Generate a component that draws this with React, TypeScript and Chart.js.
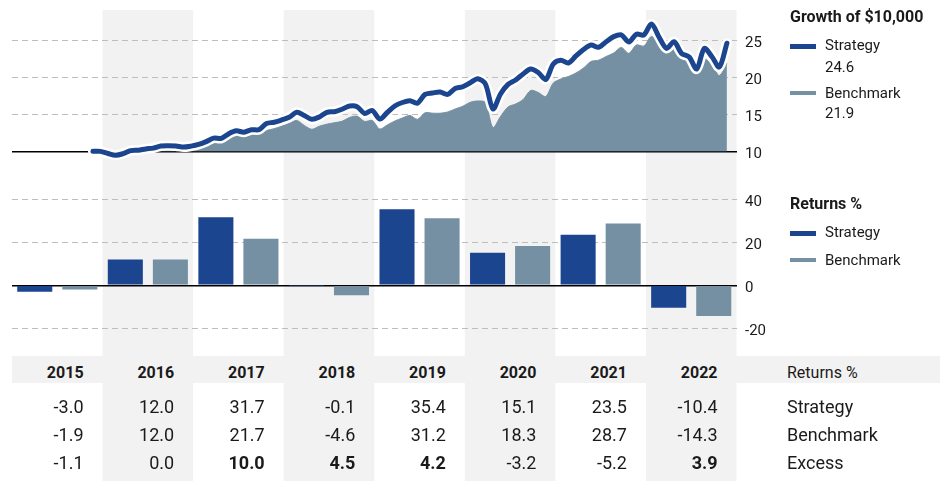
import React, { useEffect, useRef } from 'react';
import { Chart, registerables } from 'chart.js';

Chart.register(...registerables);

// ---------- data ----------
const years = ['2015', '2016', '2017', '2018', '2019', '2020', '2021', '2022'];
const strategyReturns = [-3.0, 12.0, 31.7, -0.1, 35.4, 15.1, 23.5, -10.4];
const benchmarkReturns = [-1.9, 12.0, 21.7, -4.6, 31.2, 18.3, 28.7, -14.3];
const excessReturns = [-1.1, 0.0, 10.0, 4.5, 4.2, -3.2, -5.2, 3.9];

const growthTicks = [10, 15, 20, 25];
const returnTicks = [40, 20, 0, -20];

// monthly growth of $10,000 (in thousands), first observation in late 2015
const growthStartYear = 2015.894;
const strategyGrowth = [
  10.0, 9.99, 9.7, 9.46, 9.68, 10.08, 10.14, 10.32, 10.43, 10.72,
  10.76, 10.72, 10.57, 10.7, 10.93, 11.31, 11.78, 11.74, 12.38, 12.76,
  12.58, 12.91, 12.92, 13.76, 13.92, 14.23, 14.59, 15.27, 14.84, 14.32,
  14.64, 15.27, 15.35, 15.68, 16.12, 16.03, 15.11, 15.51, 14.36, 15.24,
  16.12, 16.59, 16.82, 16.5, 17.68, 17.88, 18.01, 17.68, 18.49, 18.72,
  19.27, 19.81, 19.09, 15.72, 17.74, 19.03, 19.64, 20.45, 21.12, 20.65,
  19.7, 21.8, 22.3, 21.93, 22.88, 23.76, 24.36, 24.05, 24.81, 25.49,
  25.72, 24.77, 25.82, 25.72, 27.2, 25.45, 23.89, 24.81, 23.22, 22.74,
  21.12, 23.89, 22.81, 21.39, 24.6,
];
const benchmarkGrowth = [
  10.0, 9.95, 9.75, 9.55, 9.75, 10.05, 10.1, 10.25, 10.35, 10.6,
  10.65, 10.6, 10.5, 10.55, 10.65, 10.92, 11.65, 11.53, 11.93, 12.14,
  12.16, 12.34, 12.41, 12.81, 13.05, 13.39, 13.76, 14.16, 13.49, 12.97,
  13.39, 13.66, 13.86, 14.05, 14.57, 14.73, 14.03, 14.16, 13.01, 13.55,
  14.09, 14.5, 14.84, 14.32, 15.2, 15.15, 15.14, 15.31, 15.72, 16.08,
  16.62, 16.8, 16.59, 13.22, 14.7, 15.99, 16.39, 17.0, 18.22, 17.95,
  17.41, 19.23, 19.77, 20.11, 20.58, 21.26, 22.14, 22.31, 22.81, 23.28,
  24.03, 23.24, 24.36, 24.23, 25.51, 24.57, 23.28, 24.12, 22.41, 22.16,
  21.49, 22.5, 21.66, 20.24, 21.9,
];

// ---------- style ----------
const BLUE = '#1b458e';
const GREY_BLUE = '#7590a2';
const SHADE = '#f2f2f2';
const GRID = '#bdbdbd';
const INK = '#1a1a1a';
const FONT = 'Roboto, "Noto Sans", sans-serif';
const W = 940;
const H = 481;
const PLOT_LEFT = 12;
const PLOT_RIGHT = 736.5;
const TOP_H = 170;
const COL_W = (PLOT_RIGHT - PLOT_LEFT) / years.length;

const toPoints = (vals: number[]) =>
  vals.map((v, i) => ({ x: growthStartYear + i / 12, y: v }));

function makeShade(colBounds: (chart: any, i: number) => [number, number], top: number) {
  return {
    id: 'columnShade',
    beforeDraw(chart: any) {
      const { ctx, height } = chart;
      ctx.save();
      ctx.fillStyle = SHADE;
      years.forEach((_, i) => {
        if (i % 2 === 1) {
          const [l, r] = colBounds(chart, i);
          ctx.fillRect(l, top, r - l, height - top);
        }
      });
      ctx.restore();
    },
  };
}

const yAxisCommon = (ticksList: number[], solidAt: number) => ({
  position: 'right' as const,
  afterBuildTicks: (s: any) => {
    s.ticks = ticksList.map((v) => ({ value: v }));
  },
  afterFit: (s: any) => {
    s.width = W - PLOT_RIGHT;
    s.paddingTop = 0;
    s.paddingBottom = 0;
  },
  grid: {
    drawTicks: false,
    color: (c: any) => (c.tick && c.tick.value === solidAt ? '#000' : GRID),
    lineWidth: (c: any) => (c.tick && c.tick.value === solidAt ? 1.5 : 1),
  },
  border: {
    display: false,
    dash: (c: any) => (c.tick && c.tick.value === solidAt ? [] : [6, 4]),
  },
  ticks: {
    padding: 8.5,
    labelOffset: 2.5,
    color: INK,
    font: { family: FONT, size: 15 },
    callback: (v: any) => String(v),
  },
});

function GrowthChart() {
  const ref = useRef<HTMLCanvasElement | null>(null);
  useEffect(() => {
    if (!ref.current) return;
    const sPts = toPoints(strategyGrowth);
    const bPts = toPoints(benchmarkGrowth);
    const chart = new Chart(ref.current, {
      type: 'line',
      data: {
        datasets: [
          {
            label: 'Strategy',
            data: sPts,
            borderColor: BLUE,
            borderWidth: 5,
            pointRadius: 0,
            tension: 0.3,
            fill: false,
            order: 0,
            borderCapStyle: 'round',
            borderJoinStyle: 'round',
          },
          {
            label: 'halo',
            data: sPts,
            borderColor: '#ffffff',
            borderWidth: 10,
            pointRadius: 0,
            tension: 0.3,
            fill: false,
            order: 1,
            borderCapStyle: 'round',
            borderJoinStyle: 'round',
          },
          {
            label: 'Benchmark',
            data: bPts,
            borderColor: GREY_BLUE,
            backgroundColor: GREY_BLUE,
            borderWidth: 1,
            pointRadius: 0,
            tension: 0.3,
            fill: { value: 10 },
            order: 2,
          },
        ],
      } as any,
      options: {
        animation: false,
        responsive: false,
        devicePixelRatio: 1,
        events: [],
        layout: { padding: { left: PLOT_LEFT, top: 10, right: 0, bottom: 0 } },
        plugins: { legend: { display: false }, tooltip: { enabled: false } },
        scales: {
          x: { type: 'linear', min: 2015, max: 2023, display: false },
          y: { type: 'linear', min: 7.47, max: 29.09, ...yAxisCommon(growthTicks, 10) },
        },
      } as any,
      plugins: [
        makeShade((c, i) => {
          const x = c.scales.x;
          return [x.getPixelForValue(2015 + i), x.getPixelForValue(2016 + i)];
        }, 10),
      ],
    });
    return () => chart.destroy();
  }, []);
  return <canvas ref={ref} width={W} height={TOP_H} style={{ display: 'block', width: W, height: TOP_H }} />;
}

function ReturnsChart() {
  const ref = useRef<HTMLCanvasElement | null>(null);
  useEffect(() => {
    if (!ref.current) return;
    const chart = new Chart(ref.current, {
      type: 'bar',
      data: {
        labels: years,
        datasets: [
          {
            label: 'Strategy',
            data: strategyReturns,
            backgroundColor: BLUE,
            barPercentage: 0.778,
            categoryPercentage: 0.995,
          },
          {
            label: 'Benchmark',
            data: benchmarkReturns,
            backgroundColor: GREY_BLUE,
            barPercentage: 0.778,
            categoryPercentage: 0.995,
          },
        ],
      },
      options: {
        animation: false,
        responsive: false,
        devicePixelRatio: 1,
        events: [],
        layout: { padding: { left: PLOT_LEFT, top: 5, right: 0, bottom: H - TOP_H - 175 } },
        plugins: { legend: { display: false }, tooltip: { enabled: false } },
        scales: {
          x: { type: 'category', display: false, offset: true },
          y: { type: 'linear', min: -27.77, max: 51.3, ...yAxisCommon(returnTicks, 0) },
        },
      } as any,
      plugins: [
        makeShade((c, i) => {
          const x = c.scales.x;
          const bw = (x.right - x.left) / years.length;
          const cx = x.getPixelForValue(i);
          return [cx - bw / 2, cx + bw / 2];
        }, 0),
      ],
    });
    return () => chart.destroy();
  }, []);
  return (
    <canvas ref={ref} width={W} height={H - TOP_H} style={{ display: 'block', width: W, height: H - TOP_H }} />
  );
}

function Txt(props: {
  x: number;
  cy: number;
  size: number;
  bold?: boolean;
  children: React.ReactNode;
  w?: number;
  align?: 'left' | 'right';
  pr?: number;
}) {
  const { x, cy, size, bold, children, w, align, pr } = props;
  return (
    <div
      style={{
        position: 'absolute',
        left: x,
        top: cy - size / 2,
        width: w,
        height: size,
        lineHeight: `${size}px`,
        fontSize: size,
        fontWeight: bold ? 700 : 400,
        textAlign: align || 'left',
        paddingRight: pr || 0,
        boxSizing: 'border-box',
        whiteSpace: 'nowrap',
      }}
    >
      {children}
    </div>
  );
}

function Swatch({ y, h, color }: { y: number; h: number; color: string }) {
  return <div style={{ position: 'absolute', left: 790, top: y, width: 26, height: h, background: color }} />;
}

export default function App() {
  const rowCenters = { header: 372.5, strategy: 406.7, benchmark: 435, excess: 463.3 };
  const cellProps = (i: number) => ({ x: PLOT_LEFT + i * COL_W, w: COL_W, align: 'right' as const, pr: 19 });
  return (
    <div
      style={{
        position: 'absolute',
        left: 0,
        top: 0,
        width: W,
        height: H,
        background: '#fff',
        fontFamily: FONT,
        color: INK,
        overflow: 'hidden',
      }}
    >
      <div style={{ position: 'absolute', left: 0, top: 0 }}>
        <GrowthChart />
      </div>
      <div style={{ position: 'absolute', left: 0, top: TOP_H }}>
        <ReturnsChart />
      </div>

      {/* growth legend */}
      <Txt x={790} cy={16.7} size={16} bold>
        Growth of $10,000
      </Txt>
      <Swatch y={44.3} h={5.2} color={BLUE} />
      <Txt x={825} cy={45} size={15}>
        Strategy
      </Txt>
      <Txt x={825} cy={67} size={15}>
        {strategyGrowth[strategyGrowth.length - 1].toFixed(1)}
      </Txt>
      <Swatch y={91} h={3.6} color={GREY_BLUE} />
      <Txt x={825} cy={93} size={15}>
        Benchmark
      </Txt>
      <Txt x={825} cy={113.5} size={15}>
        {benchmarkGrowth[benchmarkGrowth.length - 1].toFixed(1)}
      </Txt>

      {/* returns legend */}
      <Txt x={790} cy={203.7} size={16} bold>
        Returns %
      </Txt>
      <Swatch y={231} h={4.7} color={BLUE} />
      <Txt x={825} cy={232.5} size={15}>
        Strategy
      </Txt>
      <Swatch y={257.7} h={4.7} color={GREY_BLUE} />
      <Txt x={825} cy={260} size={15}>
        Benchmark
      </Txt>

      {/* table */}
      <div style={{ position: 'absolute', left: PLOT_LEFT, top: 356, width: W - PLOT_LEFT, height: 27, background: SHADE }} />
      {years.map((y, i) => (
        <Txt key={'h' + y} {...cellProps(i)} cy={rowCenters.header} size={16} bold>
          {y}
        </Txt>
      ))}
      {strategyReturns.map((v, i) => (
        <Txt key={'s' + i} {...cellProps(i)} cy={rowCenters.strategy} size={18}>
          {v.toFixed(1)}
        </Txt>
      ))}
      {benchmarkReturns.map((v, i) => (
        <Txt key={'b' + i} {...cellProps(i)} cy={rowCenters.benchmark} size={18}>
          {v.toFixed(1)}
        </Txt>
      ))}
      {excessReturns.map((v, i) => (
        <Txt key={'e' + i} {...cellProps(i)} cy={rowCenters.excess} size={18} bold={v > 0}>
          {v.toFixed(1)}
        </Txt>
      ))}
      <Txt x={787} cy={rowCenters.header} size={16}>
        Returns %
      </Txt>
      <Txt x={787} cy={rowCenters.strategy} size={18}>
        Strategy
      </Txt>
      <Txt x={787} cy={rowCenters.benchmark} size={18}>
        Benchmark
      </Txt>
      <Txt x={787} cy={rowCenters.excess} size={18}>
        Excess
      </Txt>
    </div>
  );
}
